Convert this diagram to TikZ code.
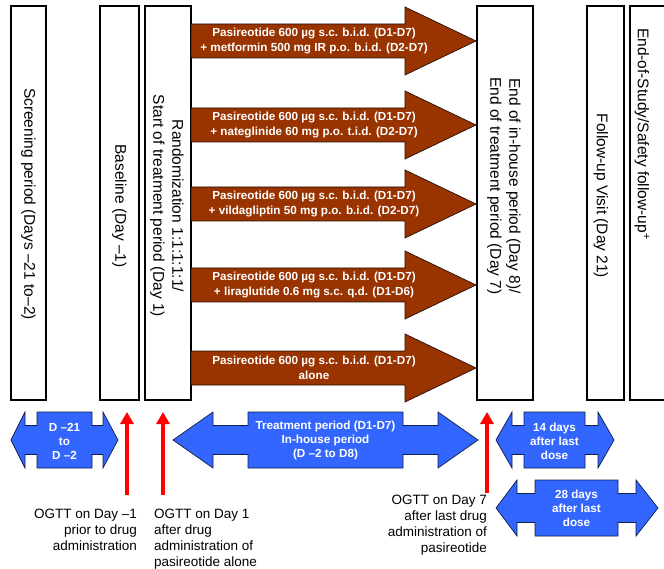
\documentclass[tikz,border=0pt]{standalone}
\usepackage{fontspec}
\setmainfont{Liberation Sans}
\usepackage{tikz}
\usetikzlibrary{arrows.meta}
\definecolor{dosebrown}{RGB}{153,51,0}
\definecolor{periodblue}{RGB}{51,102,255}

\begin{document}
\begin{tikzpicture}[x=1pt,y=-1pt,
  visit/.style={draw=black, line width=1.2pt, fill=white},
  visittext/.style={rotate=-90, align=center, inner sep=0pt, font=\fontsize{15.5}{19}\selectfont},
  dose/.style={draw=black!75!dosebrown, line width=0.7pt, fill=dosebrown},
  dosetext/.style={text=white, align=center, inner sep=0pt, font=\fontsize{11.7}{14.5}\selectfont\bfseries},
  period/.style={draw=black!70!periodblue, line width=0.7pt, fill=periodblue},
  periodtext/.style={text=white, align=center, inner sep=0pt, font=\fontsize{11.7}{14}\selectfont\bfseries},
  ogtt/.style={draw=red, line width=4.5pt, -{Triangle[width=13pt,length=12pt]}},
  ogtttext/.style={inner sep=0pt, font=\fontsize{13.5}{16}\selectfont}]
  \useasboundingbox (0,0) rectangle (664,569);

  % Draw visit columns
  \draw [visit] (11,6) rectangle (46,400);
  \draw [visit] (100,6) rectangle (139,400);
  \draw [visit] (145,6) rectangle (191,400);
  \draw [visit] (477,6) rectangle (533,400);
  \draw [visit] (587,6) rectangle (624,400);
  \draw [visit] (630,6) rectangle (700,400);
  \node [visittext] (screening) at (28.5,204) {Screening period (Days –21 to–2)};
  \node [visittext] (baseline) at (119.5,206) {Baseline (Day –1)};
  \node [visittext] (random) at (167,206) {Randomization 1:1:1:1:1/\\Start of treatment period (Day 1)};
  \node [visittext] (inhouse) at (504,186) {End of in-house period (Day 8)/\\End of treatment period (Day 7)};
  \node [visittext] (followup) at (601,196) {Follow-up Visit (Day 21)};
  \node [visittext] (safety) at (642,134) {End-of-Study/Safety follow-up\textsuperscript{+}};

  % Draw treatment arms
  \foreach \y/\i/\txt in {41/1/{Pasireotide 600 µg s.c. b.i.d. (D1-D7)\\+ metformin 500 mg IR p.o. b.i.d. (D2-D7)},
      125/2/{Pasireotide 600 µg s.c. b.i.d. (D1-D7)\\+ nateglinide 60 mg p.o. t.i.d. (D2-D7)},
      204/3/{Pasireotide 600 µg s.c. b.i.d. (D1-D7)\\+ vildagliptin 50 mg p.o. b.i.d. (D2-D7)},
      285/4/{Pasireotide 600 µg s.c. b.i.d. (D1-D7)\\+ liraglutide 0.6 mg s.c. q.d. (D1-D6)},
      368/5/{Pasireotide 600 µg s.c. b.i.d. (D1-D7)\\alone}}
  {
    \draw [dose] (191,\y-17) -- (405,\y-17) -- (405,\y-34) -- (476,\y) -- (405,\y+34) -- (405,\y+17) -- (191,\y+17) -- cycle;
    \node [dosetext] (arm\i) at (314,\y) {\txt};
  }

  % Draw periods
  \foreach \a/\b/\c/\d/\e/\f/\m in {11/25/37/92/103/118/440, 173/213/248/403/438/478/440,
      496/512/524/585/598/614/440, 496/517/535/618/636/658/508}
    \draw [period] (\a,\m) -- (\b,\m-28) -- (\b,\m-14.5) -- (\c,\m-14.5) -- (\c,\m-28) -- (\d,\m-28)
      -- (\d,\m-14.5) -- (\e,\m-14.5) -- (\e,\m-28) -- (\f,\m) -- (\e,\m+28) -- (\e,\m+14.5)
      -- (\d,\m+14.5) -- (\d,\m+28) -- (\c,\m+28) -- (\c,\m+14.5) -- (\b,\m+14.5) -- (\b,\m+28) -- cycle;
  \node [periodtext] (screenper) at (64.5,441) {D –21\\to\\D –2};
  \node [periodtext] (treatper) at (325.5,440) {Treatment period (D1-D7)\\In-house period\\(D –2 to D8)};
  \node [periodtext] (fourteen) at (554.5,441) {14 days\\after last\\dose};
  \node [periodtext] (twentyeight) at (576.5,508) {28 days\\after last\\dose};

  % OGTT arrows
  \coordinate (base) at (127,495);
  \coordinate (baseup) at (127,412);
  \coordinate (dayone) at (163,495);
  \coordinate (dayoneup) at (163,412);
  \coordinate (dayseven) at (487,493);
  \coordinate (daysevenup) at (487,412);
  \draw [ogtt] (base) -- (baseup);
  \draw [ogtt] (dayone) -- (dayoneup);
  \draw [ogtt] (dayseven) -- (daysevenup);
  \node [ogtttext, align=right, anchor=north east] (ogttbase) at (137,509) {OGTT on Day –1\\prior to drug\\administration};
  \node [ogtttext, align=left, anchor=north west] (ogttone) at (154,509) {OGTT on Day 1\\after drug\\administration of\\pasireotide alone};
  \node [ogtttext, align=right, anchor=north east] (ogttseven) at (487,495) {OGTT on Day 7\\after last drug\\administration of\\pasireotide};
\end{tikzpicture}
\end{document}
